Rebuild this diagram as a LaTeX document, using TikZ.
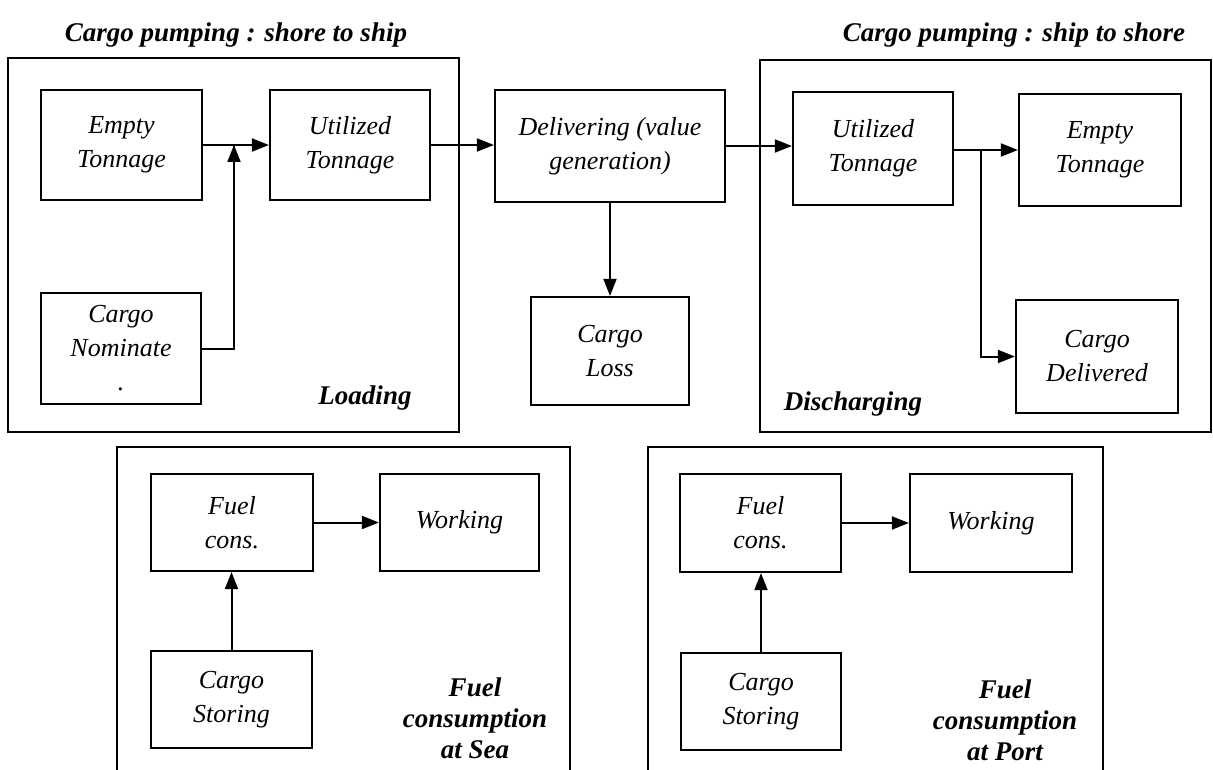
\documentclass[tikz,border=0pt]{standalone}
\usepackage{fontspec}
\setmainfont{Liberation Serif}
\usetikzlibrary{arrows.meta}

\tikzset{
  frame/.style={draw, line width=2pt, inner sep=0pt},
  stepbox/.style={draw, line width=2.2pt, align=center, inner sep=0pt,
    font=\fontsize{26}{34}\selectfont\itshape},
  caption/.style={align=center, inner sep=0pt,
    font=\fontsize{27}{31}\selectfont\bfseries\itshape},
  flow/.style={line width=2pt, -{Triangle[length=17pt,width=13pt]}},
  link/.style={line width=2pt},
}

% box given by its corners (left, top, right, bottom)
\newcommand{\boxat}[6][stepbox]{%
  \node[#1, minimum width={(#5-#3)*1pt}, minimum height={(#6-#4)*1pt}]
    (#2) at ({(#3+#5)/2},{(#4+#6)/2}) {};}

\begin{document}
\begin{tikzpicture}[x=1pt, y=-1pt]
\useasboundingbox[fill=white] (0,0) rectangle (1213,770);

% ---------- group frames ----------
\boxat[frame]{load}{8}{58}{459}{432}
\boxat[frame]{disch}{760}{60}{1211}{432}
\draw[link] (117,775) -- (117,447) coordinate (seaTL) -- (570,447) -- (570,775);
\draw[link] (648,775) -- (648,447) coordinate (portTL) -- (1103,447) -- (1103,775);

% ---------- group captions ----------
\node[caption] (t1) at (236,35) {Cargo pumping : shore to ship};
\node[caption] (t2) at (1014,35) {Cargo pumping : ship to shore};
\node[caption] (lload) at (365,398) {Loading};
\node[caption] (ldisch) at (853,404) {Discharging};
\node[caption] (lsea) at (475,718) {Fuel\\consumption\\at Sea};
\node[caption] (lport) at (1005,720) {Fuel\\consumption\\at Port};

% ---------- loading ----------
\node[stepbox, minimum width=161pt, minimum height=110pt] (et1) at (121.5,145) {Empty\\Tonnage};
\node[stepbox, minimum width=160pt, minimum height=110pt] (ut1) at (350,145) {Utilized\\Tonnage};
\node[stepbox, minimum width=160pt, minimum height=111pt] (cn) at (121,348.5) {Cargo\\Nominate\\.};

% ---------- delivering ----------
\node[stepbox, minimum width=230pt, minimum height=112pt] (dlv) at (610,146) {Delivering (value\\generation)};
\node[stepbox, minimum width=158pt, minimum height=108pt] (cl) at (610,351) {Cargo\\Loss};

% ---------- discharging ----------
\node[stepbox, minimum width=160pt, minimum height=113pt] (ut2) at (873,148.5) {Utilized\\Tonnage};
\node[stepbox, minimum width=162pt, minimum height=112pt] (et2) at (1100,150) {Empty\\Tonnage};
\node[stepbox, minimum width=162pt, minimum height=113pt] (cd) at (1097,356.5) {Cargo\\Delivered};

% ---------- fuel consumption at sea ----------
\node[stepbox, minimum width=162pt, minimum height=97pt] (fc1) at (232,522.5) {Fuel\\cons.};
\node[stepbox, minimum width=159pt, minimum height=97pt] (wk1) at (459.5,522.5) {Working};
\node[stepbox, minimum width=161pt, minimum height=97pt] (cs1) at (231.5,699.5) {Cargo\\Storing};

% ---------- fuel consumption at port ----------
\node[stepbox, minimum width=161pt, minimum height=98pt] (fc2) at (760.5,523) {Fuel\\cons.};
\node[stepbox, minimum width=162pt, minimum height=98pt] (wk2) at (991,523) {Working};
\node[stepbox, minimum width=160pt, minimum height=97pt] (cs2) at (761,701.5) {Cargo\\Storing};

% ---------- connectors ----------
\coordinate (j1) at (234,145);
\draw[flow] (et1.east) -- (ut1.west);
\draw[link] (cn.east) -| ([yshift=-1pt]j1);
\draw[flow] (cn.east -| j1) -- (j1);
\draw[flow] (ut1.east) -- (ut1.east -| dlv.west);
\draw[flow] (dlv.south) -- (cl.north);
\draw[flow] (dlv.east) -- (dlv.east -| ut2.west);
\coordinate (j2) at (981,150);
\draw[flow] (ut2.east |- j2) -- (et2.west);
\draw[flow] (j2) |- (cd.west);

\draw[flow] (fc1.east) -- (wk1.west);
\draw[flow] (cs1.north) -- (cs1.north |- fc1.south);
\draw[flow] (fc2.east) -- (wk2.west);
\draw[flow] (cs2.north) -- (cs2.north |- fc2.south);
\end{tikzpicture}
\end{document}
